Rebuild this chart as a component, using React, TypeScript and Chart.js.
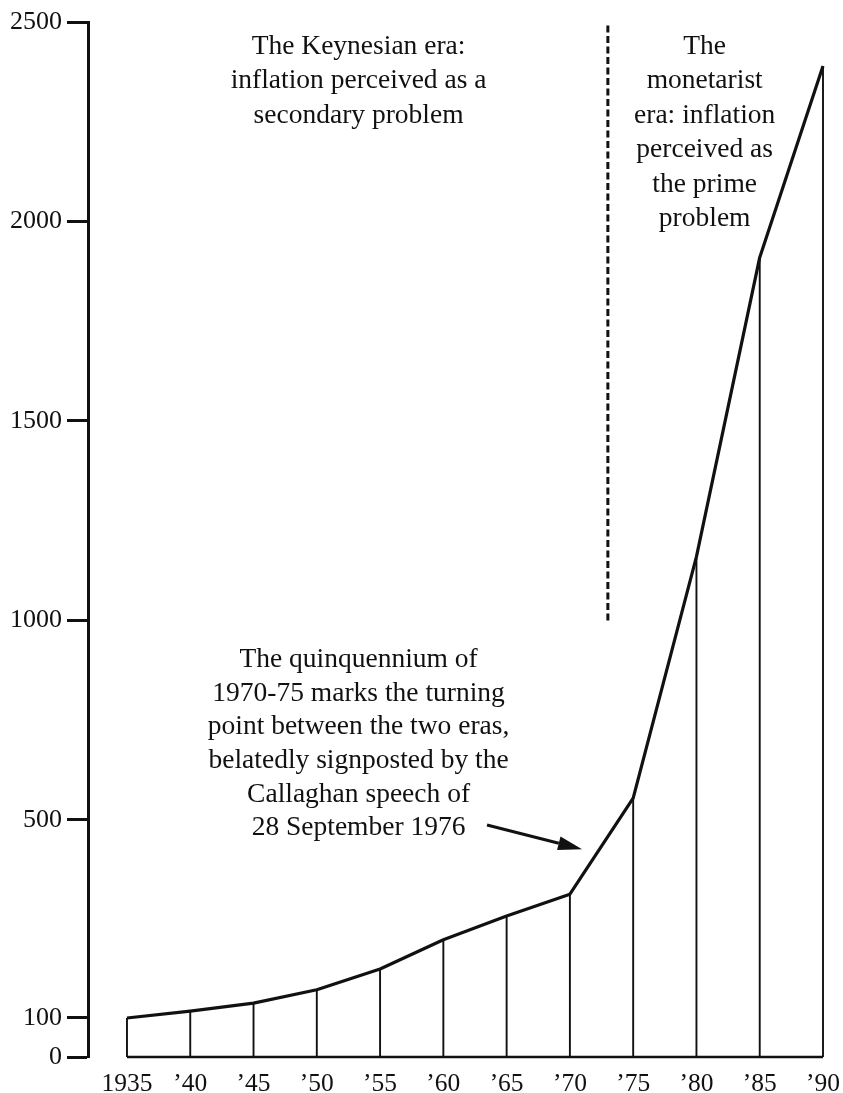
import React, { useEffect, useRef } from "react";
import { Chart, registerables, LinearScale } from "chart.js";

// ---- Data ----
const years = [1935, 1940, 1945, 1950, 1955, 1960, 1965, 1970, 1975, 1980, 1985, 1990];
const indexValues = [100, 114, 130, 157, 199, 258, 306, 350, 555, 1160, 1910, 2390];
const yTickValues = [0, 100, 500, 1000, 1500, 2000, 2500];
const xTickLabels = ["1935", "\u201940", "\u201945", "\u201950", "\u201955", "\u201960", "\u201965", "\u201970", "\u201975", "\u201980", "\u201985", "\u201990"];

// The printed axis is drawn unevenly at the bottom: break values and the share of the axis each reaches
const axisBreakValues = [0, 100, 500, 2500];
const axisBreakShares = [0, 0.0377, 0.229, 1];

const dividerYear = 1973;
const dividerRange = [1000, 2500];

const keynesianLines = ["The Keynesian era:", "inflation perceived as a", "secondary problem"];
const monetaristLines = ["The", "monetarist", "era: inflation", "perceived as", "the prime", "problem"];
const turningLines = [
  "The quinquennium of",
  "1970-75 marks the turning",
  "point between the two eras,",
  "belatedly signposted by the",
  "Callaghan speech of",
  "28 September 1976",
];

const INK = "#111";
const SERIF = "'Liberation Serif', 'Times New Roman', serif";

class PiecewiseScale extends LinearScale {
  static id = "piecewise";
  static defaults = LinearScale.defaults;
  getPixelForValue(value: number) {
    if (value === null || value === undefined || isNaN(value)) return NaN;
    const v = value;
    let share = 0;
    const n = axisBreakValues.length;
    if (v <= axisBreakValues[0]) {
      share = axisBreakShares[0];
    } else if (v >= axisBreakValues[n - 1]) {
      const a = axisBreakValues[n - 2], b = axisBreakValues[n - 1];
      share = axisBreakShares[n - 2] + ((v - a) / (b - a)) * (axisBreakShares[n - 1] - axisBreakShares[n - 2]);
    } else {
      for (let i = 0; i < n - 1; i++) {
        const a = axisBreakValues[i], b = axisBreakValues[i + 1];
        if (v >= a && v <= b) {
          share = axisBreakShares[i] + ((v - a) / (b - a)) * (axisBreakShares[i + 1] - axisBreakShares[i]);
          break;
        }
      }
    }
    return this.getPixelForDecimal(share);
  }
  getValueForPixel(pixel: number) {
    const d = this.getDecimalForPixel(pixel);
    const n = axisBreakValues.length;
    for (let i = 0; i < n - 1; i++) {
      const a = axisBreakShares[i], b = axisBreakShares[i + 1];
      if (d >= a && d <= b) {
        return axisBreakValues[i] + ((d - a) / (b - a)) * (axisBreakValues[i + 1] - axisBreakValues[i]);
      }
    }
    return d <= 0 ? axisBreakValues[0] : axisBreakValues[n - 1];
  }
}

Chart.register(...registerables, PiecewiseScale);

const annotationPlugin = {
  id: "annotations",
  afterDraw(chart: any) {
    const { ctx, scales } = chart;
    const xs = scales.x;
    const ys = scales.y;
    ctx.save();
    ctx.fillStyle = INK;
    ctx.font = `27.5px ${SERIF}`;
    ctx.textAlign = "center";
    ctx.textBaseline = "alphabetic";
    const block = (lines: string[], year: number, value: number, lh: number) => {
      const x = xs.getPixelForValue(year);
      const y0 = ys.getPixelForValue(value);
      lines.forEach((t, i) => ctx.fillText(t, x, y0 + i * lh));
    };
    block(keynesianLines, 1953.3, 2420, 34.5);
    block(monetaristLines, 1980.65, 2420, 34.5);
    block(turningLines, 1953.3, 883, 33.6);

    // arrow
    const tx = xs.getPixelForValue(1963.45), ty = ys.getPixelForValue(490);
    const hx = xs.getPixelForValue(1970.96), hy = ys.getPixelForValue(441);
    const ang = Math.atan2(hy - ty, hx - tx);
    const headLen = 24, headHalf = 7;
    const bx = hx - headLen * Math.cos(ang), by = hy - headLen * Math.sin(ang);
    ctx.strokeStyle = INK;
    ctx.lineWidth = 3;
    ctx.beginPath();
    ctx.moveTo(tx, ty);
    ctx.lineTo(bx, by);
    ctx.stroke();
    ctx.beginPath();
    ctx.moveTo(hx, hy);
    ctx.lineTo(bx + headHalf * Math.sin(ang), by - headHalf * Math.cos(ang));
    ctx.lineTo(bx - headHalf * Math.sin(ang), by + headHalf * Math.cos(ang));
    ctx.closePath();
    ctx.fill();
    ctx.restore();
  },
};

export default function App() {
  const ref = useRef<HTMLCanvasElement | null>(null);
  useEffect(() => {
    if (!ref.current) return;
    const mainLine = years.map((yr, i) => ({ x: yr, y: indexValues[i] }));
    const dropLines: any[] = [];
    years.forEach((yr, i) => {
      dropLines.push({ x: yr, y: 0 }, { x: yr, y: indexValues[i] }, { x: yr, y: null });
    });
    const baseline = [
      { x: years[0], y: 0 },
      { x: years[years.length - 1], y: 0 },
    ];
    const divider = [
      { x: dividerYear, y: dividerRange[0] },
      { x: dividerYear, y: dividerRange[1] },
    ];
    const chart = new Chart(ref.current, {
      type: "line",
      data: {
        datasets: [
          { data: mainLine, borderColor: INK, borderWidth: 3.2, pointRadius: 0, tension: 0, borderJoinStyle: "round", clip: false } as any,
          { data: dropLines, borderColor: INK, borderWidth: 1.9, pointRadius: 0, spanGaps: false, clip: false } as any,
          { data: baseline, borderColor: INK, borderWidth: 2.5, pointRadius: 0, clip: false } as any,
          { data: divider, borderColor: INK, borderWidth: 3, pointRadius: 0, borderDash: [7, 3.5], clip: false } as any,
        ],
      },
      options: {
        animation: false,
        responsive: false,
        events: [],
        layout: { padding: { top: 22, right: 20, left: 0, bottom: 0 } },
        plugins: { legend: { display: false }, tooltip: { enabled: false }, title: { display: false } },
        scales: {
          x: {
            type: "linear",
            min: 1931.92,
            max: 1990,
            offset: false,
            grid: { display: false },
            border: { display: false },
            afterBuildTicks: (axis: any) => {
              axis.ticks = years.map((v) => ({ value: v }));
            },
            afterFit: (axis: any) => {
              axis.height = 36;
              axis.paddingLeft = 0;
              axis.paddingRight = 0;
            },
            ticks: {
              autoSkip: false,
              maxRotation: 0,
              padding: 4,
              color: INK,
              font: { family: SERIF, size: 25.5 },
              callback: (v: any) => {
                const i = years.indexOf(Number(v));
                return i >= 0 ? xTickLabels[i] : "";
              },
            },
          },
          y: {
            type: "piecewise" as any,
            min: 0,
            max: 2500,
            grid: {
              drawOnChartArea: false,
              drawTicks: true,
              tickLength: 21,
              tickWidth: 3,
              tickColor: INK,
            },
            border: { display: true, width: 3, color: INK },
            afterBuildTicks: (axis: any) => {
              axis.ticks = yTickValues.map((v) => ({ value: v }));
            },
            afterFit: (axis: any) => {
              axis.width = 88;
            },
            ticks: {
              autoSkip: false,
              padding: 5,
              color: INK,
              font: { family: SERIF, size: 26 },
              callback: (v: any) => String(v),
            },
          } as any,
        },
      },
      plugins: [annotationPlugin],
    });
    return () => chart.destroy();
  }, []);
  return (
    <div style={{ position: "absolute", left: 0, top: 0, width: 843, height: 1093, background: "#fff" }}>
      <canvas ref={ref} width={843} height={1093} style={{ display: "block" }} />
    </div>
  );
}
